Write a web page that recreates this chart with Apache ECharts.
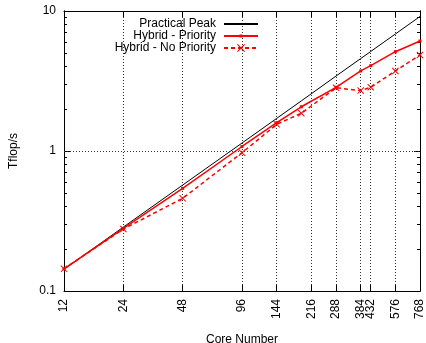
<!DOCTYPE html>
<html><head><meta charset="utf-8">
<script src="https://cdn.jsdelivr.net/npm/echarts@6/dist/echarts.min.js"></script>
<style>html,body{margin:0;padding:0;background:#fff}#c{width:426px;height:343px}</style>
</head><body><div id="c"></div>
<script>
const cores = [12, 24, 48, 96, 144, 192, 288, 384, 432, 576, 768];
const practicalPeak = [0.143, 0.286, 0.571, 1.14, 1.71, 2.28, 3.43, 4.57, 5.14, 6.85, 9.14];
const hybridPriority = [0.144, 0.280, 0.541, 1.077, 1.593, 2.07, 2.85, 3.73, 4.07, 5.12, 6.10];
const hybridNoPriority = [0.144, 0.277, 0.459, 0.972, 1.55, 1.86, 2.83, 2.70, 2.85, 3.73, 4.85];
const xTickLabels = [12, 24, 48, 96, 144, 216, 288, 384, 432, 576, 768];
const yTickLabels = [0.1, 1, 10];
const yMinorTicks = [0.2, 0.3, 0.4, 0.5, 0.6, 0.7, 0.8, 0.9, 2, 3, 4, 5, 6, 7, 8, 9];

const FONT = 'Liberation Sans';
const pairs = (ys) => cores.map((c, i) => [c, ys[i]]);
const xCross = 'path://M0,1L1,0L5,4L9,0L10,1L6,5L10,9L9,10L5,6L1,10L0,9L4,5Z';
const smallDot = 'path://M0,0L0,0M2.5,2.5L5.5,2.5L5.5,5.5L2.5,5.5ZM8,8L8,8';
const black = '#000';
const dotted = {color: '#333', width: 1, type: [1, 2]};

const chart = echarts.init(document.getElementById('c'), null, {renderer: 'canvas'});
const xBase = {type: 'log', logBase: 2, min: 12, max: 768,
  axisLine: {lineStyle: {color: black, width: 1}}};
const yBase = {type: 'log', logBase: 10, min: 0.1, max: 10,
  axisLine: {show: true, lineStyle: {color: black, width: 1}}, splitLine: {show: false}};
chart.setOption({
  animation: false,
  backgroundColor: '#fff',
  textStyle: {fontFamily: FONT},
  grid: {left: 64, right: 6, top: 11, bottom: 52, containLabel: false, outerBoundsMode: 'none'},
  legend: {
    orient: 'vertical', right: 167, top: 18, padding: 0, itemGap: 0,
    itemWidth: 34, itemHeight: 10, align: 'right',
    textStyle: {fontFamily: FONT, fontSize: 12, lineHeight: 12, color: black, padding: [0, 3, 0, 0]},
    data: [
      {name: 'Practical Peak', itemStyle: {opacity: 0}},
      'Hybrid - Priority',
      'Hybrid - No Priority'
    ]
  },
  xAxis: [
    Object.assign({}, xBase, {
      position: 'bottom',
      axisTick: {show: true, inside: true, length: 6, customValues: xTickLabels, lineStyle: {color: black}},
      axisLabel: {customValues: xTickLabels, rotate: 90, margin: 8, color: black, fontSize: 12, fontFamily: FONT},
      splitLine: {show: true, lineStyle: dotted},
      name: 'Core Number', nameLocation: 'middle', nameGap: 43,
      nameTextStyle: {fontFamily: FONT, fontSize: 12, color: black}
    }),
    Object.assign({}, xBase, {
      position: 'top',
      axisTick: {show: true, inside: true, length: 6, customValues: xTickLabels, lineStyle: {color: black}},
      axisLabel: {show: false}, splitLine: {show: false}
    })
  ],
  yAxis: [
    Object.assign({}, yBase, {
      position: 'left',
      axisTick: {show: true, inside: true, length: 6, customValues: yTickLabels, lineStyle: {color: black}},
      axisLabel: {customValues: yTickLabels, margin: 8, color: black, fontSize: 12, fontFamily: FONT,
        formatter: (v) => String(v)},
      name: 'Tflop/s', nameLocation: 'middle', nameGap: 44, nameRotate: 90,
      nameTextStyle: {fontFamily: FONT, fontSize: 12, color: black}
    }),
    Object.assign({}, yBase, {
      position: 'right',
      axisTick: {show: true, inside: true, length: 6, customValues: yTickLabels, lineStyle: {color: black}},
      axisLabel: {show: false}
    }),
    Object.assign({}, yBase, {
      position: 'left',
      axisTick: {show: true, inside: true, length: 3, customValues: yMinorTicks, lineStyle: {color: black}},
      axisLabel: {show: false}
    }),
    Object.assign({}, yBase, {
      position: 'right',
      axisTick: {show: true, inside: true, length: 3, customValues: yMinorTicks, lineStyle: {color: black}},
      axisLabel: {show: false}
    })
  ],
  series: [
    {
      name: 'Practical Peak', type: 'line', data: pairs(practicalPeak),
      showSymbol: false, symbol: 'none',
      lineStyle: {color: black, width: 1}, itemStyle: {color: black},
      markLine: {silent: true, symbol: 'none', label: {show: false},
        lineStyle: dotted, data: [{yAxis: 1}]},
      z: 3
    },
    {
      name: 'Hybrid - Priority', type: 'line', data: pairs(hybridPriority),
      symbol: smallDot, symbolSize: 8,
      lineStyle: {color: '#ff0000', width: 1.5}, itemStyle: {color: '#ff0000'},
      z: 4
    },
    {
      name: 'Hybrid - No Priority', type: 'line', data: pairs(hybridNoPriority),
      symbol: xCross, symbolSize: 7,
      lineStyle: {color: '#ff0000', width: 1.5, type: [4, 3]}, itemStyle: {color: '#ff0000'},
      z: 5
    }
  ]
});
</script></body></html>
